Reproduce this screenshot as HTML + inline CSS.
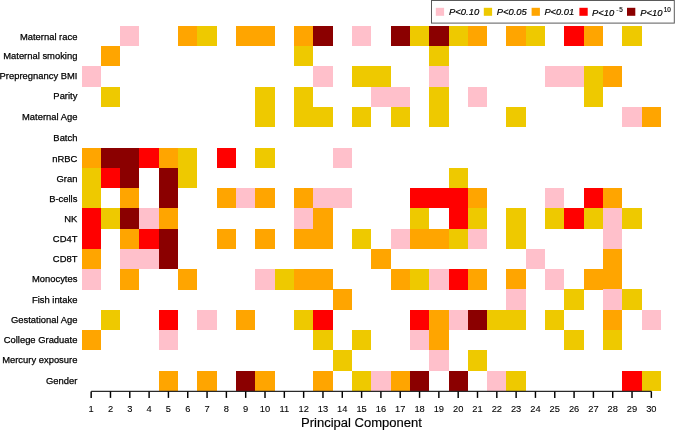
<!DOCTYPE html><html><head><meta charset="utf-8"><style>html,body{margin:0;padding:0;background:#fff;}svg{display:block;}</style></head><body>
<svg width="675" height="430" viewBox="0 0 675 430" font-family="Liberation Sans, Arial, sans-serif">
<rect x="0" y="0" width="675" height="430" fill="#fff"/>
<g shape-rendering="crispEdges">
<rect x="120.13" y="25.85" width="19.34" height="20.30" fill="#FFC0CB"/>
<rect x="178.09" y="25.85" width="19.34" height="20.30" fill="#FFA500"/>
<rect x="197.40" y="25.85" width="19.34" height="20.30" fill="#EEC900"/>
<rect x="236.04" y="25.85" width="19.34" height="20.30" fill="#FFA500"/>
<rect x="255.35" y="25.85" width="19.34" height="20.30" fill="#FFA500"/>
<rect x="293.99" y="25.85" width="19.34" height="20.30" fill="#FFA500"/>
<rect x="313.30" y="25.85" width="19.34" height="20.30" fill="#8B0000"/>
<rect x="351.94" y="25.85" width="19.34" height="20.30" fill="#FFC0CB"/>
<rect x="390.57" y="25.85" width="19.34" height="20.30" fill="#8B0000"/>
<rect x="409.89" y="25.85" width="19.34" height="20.30" fill="#EEC900"/>
<rect x="429.21" y="25.85" width="19.34" height="20.30" fill="#8B0000"/>
<rect x="448.52" y="25.85" width="19.34" height="20.30" fill="#EEC900"/>
<rect x="467.84" y="25.85" width="19.34" height="20.30" fill="#FFA500"/>
<rect x="506.47" y="25.85" width="19.34" height="20.30" fill="#FFA500"/>
<rect x="525.79" y="25.85" width="19.34" height="20.30" fill="#EEC900"/>
<rect x="564.42" y="25.85" width="19.34" height="20.30" fill="#FF0000"/>
<rect x="583.74" y="25.85" width="19.34" height="20.30" fill="#FFA500"/>
<rect x="622.38" y="25.85" width="19.34" height="20.30" fill="#EEC900"/>
<rect x="100.82" y="46.13" width="19.34" height="20.30" fill="#FFA500"/>
<rect x="293.99" y="46.13" width="19.34" height="20.30" fill="#EEC900"/>
<rect x="429.21" y="46.13" width="19.34" height="20.30" fill="#EEC900"/>
<rect x="81.50" y="66.41" width="19.34" height="20.30" fill="#FFC0CB"/>
<rect x="313.30" y="66.41" width="19.34" height="20.30" fill="#FFC0CB"/>
<rect x="351.94" y="66.41" width="19.34" height="20.30" fill="#EEC900"/>
<rect x="371.25" y="66.41" width="19.34" height="20.30" fill="#EEC900"/>
<rect x="429.21" y="66.41" width="19.34" height="20.30" fill="#FFC0CB"/>
<rect x="545.11" y="66.41" width="19.34" height="20.30" fill="#FFC0CB"/>
<rect x="564.42" y="66.41" width="19.34" height="20.30" fill="#FFC0CB"/>
<rect x="583.74" y="66.41" width="19.34" height="20.30" fill="#EEC900"/>
<rect x="603.06" y="66.41" width="19.34" height="20.30" fill="#FFA500"/>
<rect x="100.82" y="86.69" width="19.34" height="20.30" fill="#EEC900"/>
<rect x="255.35" y="86.69" width="19.34" height="20.30" fill="#EEC900"/>
<rect x="293.99" y="86.69" width="19.34" height="20.30" fill="#EEC900"/>
<rect x="371.25" y="86.69" width="19.34" height="20.30" fill="#FFC0CB"/>
<rect x="390.57" y="86.69" width="19.34" height="20.30" fill="#FFC0CB"/>
<rect x="429.21" y="86.69" width="19.34" height="20.30" fill="#EEC900"/>
<rect x="467.84" y="86.69" width="19.34" height="20.30" fill="#FFC0CB"/>
<rect x="583.74" y="86.69" width="19.34" height="20.30" fill="#EEC900"/>
<rect x="255.35" y="106.97" width="19.34" height="20.30" fill="#EEC900"/>
<rect x="293.99" y="106.97" width="19.34" height="20.30" fill="#EEC900"/>
<rect x="313.30" y="106.97" width="19.34" height="20.30" fill="#EEC900"/>
<rect x="351.94" y="106.97" width="19.34" height="20.30" fill="#EEC900"/>
<rect x="390.57" y="106.97" width="19.34" height="20.30" fill="#EEC900"/>
<rect x="429.21" y="106.97" width="19.34" height="20.30" fill="#EEC900"/>
<rect x="506.47" y="106.97" width="19.34" height="20.30" fill="#EEC900"/>
<rect x="622.38" y="106.97" width="19.34" height="20.30" fill="#FFC0CB"/>
<rect x="641.69" y="106.97" width="19.34" height="20.30" fill="#FFA500"/>
<rect x="81.50" y="147.53" width="19.34" height="20.30" fill="#FFA500"/>
<rect x="100.82" y="147.53" width="19.34" height="20.30" fill="#8B0000"/>
<rect x="120.13" y="147.53" width="19.34" height="20.30" fill="#8B0000"/>
<rect x="139.45" y="147.53" width="19.34" height="20.30" fill="#FF0000"/>
<rect x="158.77" y="147.53" width="19.34" height="20.30" fill="#FFA500"/>
<rect x="178.09" y="147.53" width="19.34" height="20.30" fill="#EEC900"/>
<rect x="216.72" y="147.53" width="19.34" height="20.30" fill="#FF0000"/>
<rect x="255.35" y="147.53" width="19.34" height="20.30" fill="#EEC900"/>
<rect x="332.62" y="147.53" width="19.34" height="20.30" fill="#FFC0CB"/>
<rect x="81.50" y="167.81" width="19.34" height="20.30" fill="#EEC900"/>
<rect x="100.82" y="167.81" width="19.34" height="20.30" fill="#FF0000"/>
<rect x="120.13" y="167.81" width="19.34" height="20.30" fill="#8B0000"/>
<rect x="158.77" y="167.81" width="19.34" height="20.30" fill="#8B0000"/>
<rect x="178.09" y="167.81" width="19.34" height="20.30" fill="#EEC900"/>
<rect x="448.52" y="167.81" width="19.34" height="20.30" fill="#EEC900"/>
<rect x="81.50" y="188.09" width="19.34" height="20.30" fill="#EEC900"/>
<rect x="120.13" y="188.09" width="19.34" height="20.30" fill="#FFA500"/>
<rect x="158.77" y="188.09" width="19.34" height="20.30" fill="#8B0000"/>
<rect x="216.72" y="188.09" width="19.34" height="20.30" fill="#FFA500"/>
<rect x="236.04" y="188.09" width="19.34" height="20.30" fill="#FFC0CB"/>
<rect x="255.35" y="188.09" width="19.34" height="20.30" fill="#FFA500"/>
<rect x="293.99" y="188.09" width="19.34" height="20.30" fill="#FFA500"/>
<rect x="313.30" y="188.09" width="19.34" height="20.30" fill="#FFC0CB"/>
<rect x="332.62" y="188.09" width="19.34" height="20.30" fill="#FFC0CB"/>
<rect x="409.89" y="188.09" width="19.34" height="20.30" fill="#FF0000"/>
<rect x="429.21" y="188.09" width="19.34" height="20.30" fill="#FF0000"/>
<rect x="448.52" y="188.09" width="19.34" height="20.30" fill="#FF0000"/>
<rect x="467.84" y="188.09" width="19.34" height="20.30" fill="#FFA500"/>
<rect x="545.11" y="188.09" width="19.34" height="20.30" fill="#FFC0CB"/>
<rect x="583.74" y="188.09" width="19.34" height="20.30" fill="#FF0000"/>
<rect x="603.06" y="188.09" width="19.34" height="20.30" fill="#FFA500"/>
<rect x="81.50" y="208.37" width="19.34" height="20.30" fill="#FF0000"/>
<rect x="100.82" y="208.37" width="19.34" height="20.30" fill="#EEC900"/>
<rect x="120.13" y="208.37" width="19.34" height="20.30" fill="#8B0000"/>
<rect x="139.45" y="208.37" width="19.34" height="20.30" fill="#FFC0CB"/>
<rect x="158.77" y="208.37" width="19.34" height="20.30" fill="#FFA500"/>
<rect x="293.99" y="208.37" width="19.34" height="20.30" fill="#FFC0CB"/>
<rect x="313.30" y="208.37" width="19.34" height="20.30" fill="#FFA500"/>
<rect x="409.89" y="208.37" width="19.34" height="20.30" fill="#EEC900"/>
<rect x="448.52" y="208.37" width="19.34" height="20.30" fill="#FF0000"/>
<rect x="467.84" y="208.37" width="19.34" height="20.30" fill="#EEC900"/>
<rect x="506.47" y="208.37" width="19.34" height="20.30" fill="#EEC900"/>
<rect x="545.11" y="208.37" width="19.34" height="20.30" fill="#EEC900"/>
<rect x="564.42" y="208.37" width="19.34" height="20.30" fill="#FF0000"/>
<rect x="583.74" y="208.37" width="19.34" height="20.30" fill="#EEC900"/>
<rect x="603.06" y="208.37" width="19.34" height="20.30" fill="#FFC0CB"/>
<rect x="622.38" y="208.37" width="19.34" height="20.30" fill="#EEC900"/>
<rect x="81.50" y="228.65" width="19.34" height="20.30" fill="#FF0000"/>
<rect x="120.13" y="228.65" width="19.34" height="20.30" fill="#FFA500"/>
<rect x="139.45" y="228.65" width="19.34" height="20.30" fill="#FF0000"/>
<rect x="158.77" y="228.65" width="19.34" height="20.30" fill="#8B0000"/>
<rect x="216.72" y="228.65" width="19.34" height="20.30" fill="#FFA500"/>
<rect x="255.35" y="228.65" width="19.34" height="20.30" fill="#FFA500"/>
<rect x="293.99" y="228.65" width="19.34" height="20.30" fill="#FFA500"/>
<rect x="313.30" y="228.65" width="19.34" height="20.30" fill="#FFA500"/>
<rect x="351.94" y="228.65" width="19.34" height="20.30" fill="#EEC900"/>
<rect x="390.57" y="228.65" width="19.34" height="20.30" fill="#FFC0CB"/>
<rect x="409.89" y="228.65" width="19.34" height="20.30" fill="#FFA500"/>
<rect x="429.21" y="228.65" width="19.34" height="20.30" fill="#FFA500"/>
<rect x="448.52" y="228.65" width="19.34" height="20.30" fill="#EEC900"/>
<rect x="467.84" y="228.65" width="19.34" height="20.30" fill="#FFC0CB"/>
<rect x="506.47" y="228.65" width="19.34" height="20.30" fill="#EEC900"/>
<rect x="603.06" y="228.65" width="19.34" height="20.30" fill="#FFC0CB"/>
<rect x="81.50" y="248.93" width="19.34" height="20.30" fill="#FFA500"/>
<rect x="120.13" y="248.93" width="19.34" height="20.30" fill="#FFC0CB"/>
<rect x="139.45" y="248.93" width="19.34" height="20.30" fill="#FFC0CB"/>
<rect x="158.77" y="248.93" width="19.34" height="20.30" fill="#8B0000"/>
<rect x="371.25" y="248.93" width="19.34" height="20.30" fill="#FFA500"/>
<rect x="525.79" y="248.93" width="19.34" height="20.30" fill="#FFC0CB"/>
<rect x="603.06" y="248.93" width="19.34" height="20.30" fill="#FFA500"/>
<rect x="81.50" y="269.21" width="19.34" height="20.30" fill="#FFC0CB"/>
<rect x="120.13" y="269.21" width="19.34" height="20.30" fill="#FFA500"/>
<rect x="178.09" y="269.21" width="19.34" height="20.30" fill="#FFA500"/>
<rect x="255.35" y="269.21" width="19.34" height="20.30" fill="#FFC0CB"/>
<rect x="274.67" y="269.21" width="19.34" height="20.30" fill="#EEC900"/>
<rect x="293.99" y="269.21" width="19.34" height="20.30" fill="#FFA500"/>
<rect x="313.30" y="269.21" width="19.34" height="20.30" fill="#FFA500"/>
<rect x="390.57" y="269.21" width="19.34" height="20.30" fill="#FFA500"/>
<rect x="409.89" y="269.21" width="19.34" height="20.30" fill="#EEC900"/>
<rect x="429.21" y="269.21" width="19.34" height="20.30" fill="#FFC0CB"/>
<rect x="448.52" y="269.21" width="19.34" height="20.30" fill="#FF0000"/>
<rect x="467.84" y="269.21" width="19.34" height="20.30" fill="#FFA500"/>
<rect x="506.47" y="269.21" width="19.34" height="20.30" fill="#FFA500"/>
<rect x="545.11" y="269.21" width="19.34" height="20.30" fill="#FFC0CB"/>
<rect x="583.74" y="269.21" width="19.34" height="20.30" fill="#FFA500"/>
<rect x="603.06" y="269.21" width="19.34" height="20.30" fill="#FFA500"/>
<rect x="332.62" y="289.49" width="19.34" height="20.30" fill="#FFA500"/>
<rect x="506.47" y="289.49" width="19.34" height="20.30" fill="#FFC0CB"/>
<rect x="564.42" y="289.49" width="19.34" height="20.30" fill="#EEC900"/>
<rect x="603.06" y="289.49" width="19.34" height="20.30" fill="#FFC0CB"/>
<rect x="622.38" y="289.49" width="19.34" height="20.30" fill="#EEC900"/>
<rect x="100.82" y="309.77" width="19.34" height="20.30" fill="#EEC900"/>
<rect x="158.77" y="309.77" width="19.34" height="20.30" fill="#FF0000"/>
<rect x="197.40" y="309.77" width="19.34" height="20.30" fill="#FFC0CB"/>
<rect x="236.04" y="309.77" width="19.34" height="20.30" fill="#FFA500"/>
<rect x="293.99" y="309.77" width="19.34" height="20.30" fill="#EEC900"/>
<rect x="313.30" y="309.77" width="19.34" height="20.30" fill="#FF0000"/>
<rect x="409.89" y="309.77" width="19.34" height="20.30" fill="#FF0000"/>
<rect x="429.21" y="309.77" width="19.34" height="20.30" fill="#FFA500"/>
<rect x="448.52" y="309.77" width="19.34" height="20.30" fill="#FFC0CB"/>
<rect x="467.84" y="309.77" width="19.34" height="20.30" fill="#8B0000"/>
<rect x="487.16" y="309.77" width="19.34" height="20.30" fill="#EEC900"/>
<rect x="506.47" y="309.77" width="19.34" height="20.30" fill="#EEC900"/>
<rect x="545.11" y="309.77" width="19.34" height="20.30" fill="#EEC900"/>
<rect x="603.06" y="309.77" width="19.34" height="20.30" fill="#FFA500"/>
<rect x="641.69" y="309.77" width="19.34" height="20.30" fill="#FFC0CB"/>
<rect x="81.50" y="330.05" width="19.34" height="20.30" fill="#FFA500"/>
<rect x="158.77" y="330.05" width="19.34" height="20.30" fill="#FFC0CB"/>
<rect x="313.30" y="330.05" width="19.34" height="20.30" fill="#EEC900"/>
<rect x="351.94" y="330.05" width="19.34" height="20.30" fill="#EEC900"/>
<rect x="409.89" y="330.05" width="19.34" height="20.30" fill="#FFC0CB"/>
<rect x="429.21" y="330.05" width="19.34" height="20.30" fill="#FFA500"/>
<rect x="564.42" y="330.05" width="19.34" height="20.30" fill="#EEC900"/>
<rect x="603.06" y="330.05" width="19.34" height="20.30" fill="#EEC900"/>
<rect x="332.62" y="350.33" width="19.34" height="20.30" fill="#EEC900"/>
<rect x="429.21" y="350.33" width="19.34" height="20.30" fill="#FFC0CB"/>
<rect x="467.84" y="350.33" width="19.34" height="20.30" fill="#EEC900"/>
<rect x="158.77" y="370.61" width="19.34" height="20.30" fill="#FFA500"/>
<rect x="197.40" y="370.61" width="19.34" height="20.30" fill="#FFA500"/>
<rect x="236.04" y="370.61" width="19.34" height="20.30" fill="#8B0000"/>
<rect x="255.35" y="370.61" width="19.34" height="20.30" fill="#FFA500"/>
<rect x="313.30" y="370.61" width="19.34" height="20.30" fill="#FFA500"/>
<rect x="351.94" y="370.61" width="19.34" height="20.30" fill="#EEC900"/>
<rect x="371.25" y="370.61" width="19.34" height="20.30" fill="#FFC0CB"/>
<rect x="390.57" y="370.61" width="19.34" height="20.30" fill="#FFA500"/>
<rect x="409.89" y="370.61" width="19.34" height="20.30" fill="#8B0000"/>
<rect x="448.52" y="370.61" width="19.34" height="20.30" fill="#8B0000"/>
<rect x="487.16" y="370.61" width="19.34" height="20.30" fill="#FFC0CB"/>
<rect x="506.47" y="370.61" width="19.34" height="20.30" fill="#EEC900"/>
<rect x="622.38" y="370.61" width="19.34" height="20.30" fill="#FF0000"/>
<rect x="641.69" y="370.61" width="19.34" height="20.30" fill="#EEC900"/>
</g>
<g fill="#000" stroke="#000" stroke-width="0.25" font-size="9.7">
<text x="77.40" y="39.60" text-anchor="end" textLength="57.46" lengthAdjust="spacingAndGlyphs">Maternal race</text>
<text x="77.40" y="58.70" text-anchor="end" textLength="74.18" lengthAdjust="spacingAndGlyphs">Maternal smoking</text>
<text x="77.40" y="79.10" text-anchor="end" textLength="77.84" lengthAdjust="spacingAndGlyphs">Prepregnancy BMI</text>
<text x="77.40" y="99.40" text-anchor="end" textLength="24.03" lengthAdjust="spacingAndGlyphs">Parity</text>
<text x="77.40" y="120.00" text-anchor="end" textLength="55.39" lengthAdjust="spacingAndGlyphs">Maternal Age</text>
<text x="77.40" y="140.90" text-anchor="end" textLength="24.04" lengthAdjust="spacingAndGlyphs">Batch</text>
<text x="77.40" y="161.60" text-anchor="end" textLength="25.07" lengthAdjust="spacingAndGlyphs">nRBC</text>
<text x="77.40" y="181.80" text-anchor="end" textLength="20.90" lengthAdjust="spacingAndGlyphs">Gran</text>
<text x="77.40" y="201.80" text-anchor="end" textLength="28.20" lengthAdjust="spacingAndGlyphs">B-cells</text>
<text x="77.40" y="222.00" text-anchor="end" textLength="13.06" lengthAdjust="spacingAndGlyphs">NK</text>
<text x="77.40" y="242.40" text-anchor="end" textLength="24.55" lengthAdjust="spacingAndGlyphs">CD4T</text>
<text x="77.40" y="262.40" text-anchor="end" textLength="24.55" lengthAdjust="spacingAndGlyphs">CD8T</text>
<text x="77.40" y="282.40" text-anchor="end" textLength="45.45" lengthAdjust="spacingAndGlyphs">Monocytes</text>
<text x="77.40" y="303.30" text-anchor="end" textLength="45.45" lengthAdjust="spacingAndGlyphs">Fish intake</text>
<text x="77.40" y="322.60" text-anchor="end" textLength="66.37" lengthAdjust="spacingAndGlyphs">Gestational Age</text>
<text x="77.40" y="342.90" text-anchor="end" textLength="73.68" lengthAdjust="spacingAndGlyphs">College Graduate</text>
<text x="77.40" y="363.40" text-anchor="end" textLength="75.22" lengthAdjust="spacingAndGlyphs">Mercury exposure</text>
<text x="77.40" y="384.30" text-anchor="end" textLength="31.35" lengthAdjust="spacingAndGlyphs">Gender</text>
</g>
<line x1="91.16" y1="391.4" x2="651.35" y2="391.4" stroke="#2a2a2a" stroke-width="1.2"/>
<g stroke="#000" stroke-width="1.45">
<line x1="91.16" y1="391.4" x2="91.16" y2="397.9"/>
<line x1="110.48" y1="391.4" x2="110.48" y2="397.9"/>
<line x1="129.79" y1="391.4" x2="129.79" y2="397.9"/>
<line x1="149.11" y1="391.4" x2="149.11" y2="397.9"/>
<line x1="168.43" y1="391.4" x2="168.43" y2="397.9"/>
<line x1="187.74" y1="391.4" x2="187.74" y2="397.9"/>
<line x1="207.06" y1="391.4" x2="207.06" y2="397.9"/>
<line x1="226.38" y1="391.4" x2="226.38" y2="397.9"/>
<line x1="245.69" y1="391.4" x2="245.69" y2="397.9"/>
<line x1="265.01" y1="391.4" x2="265.01" y2="397.9"/>
<line x1="284.33" y1="391.4" x2="284.33" y2="397.9"/>
<line x1="303.65" y1="391.4" x2="303.65" y2="397.9"/>
<line x1="322.96" y1="391.4" x2="322.96" y2="397.9"/>
<line x1="342.28" y1="391.4" x2="342.28" y2="397.9"/>
<line x1="361.60" y1="391.4" x2="361.60" y2="397.9"/>
<line x1="380.91" y1="391.4" x2="380.91" y2="397.9"/>
<line x1="400.23" y1="391.4" x2="400.23" y2="397.9"/>
<line x1="419.55" y1="391.4" x2="419.55" y2="397.9"/>
<line x1="438.86" y1="391.4" x2="438.86" y2="397.9"/>
<line x1="458.18" y1="391.4" x2="458.18" y2="397.9"/>
<line x1="477.50" y1="391.4" x2="477.50" y2="397.9"/>
<line x1="496.82" y1="391.4" x2="496.82" y2="397.9"/>
<line x1="516.13" y1="391.4" x2="516.13" y2="397.9"/>
<line x1="535.45" y1="391.4" x2="535.45" y2="397.9"/>
<line x1="554.77" y1="391.4" x2="554.77" y2="397.9"/>
<line x1="574.08" y1="391.4" x2="574.08" y2="397.9"/>
<line x1="593.40" y1="391.4" x2="593.40" y2="397.9"/>
<line x1="612.72" y1="391.4" x2="612.72" y2="397.9"/>
<line x1="632.03" y1="391.4" x2="632.03" y2="397.9"/>
<line x1="651.35" y1="391.4" x2="651.35" y2="397.9"/>
</g>
<g fill="#000" stroke="#000" stroke-width="0.1" font-size="9.3" text-anchor="middle">
<text x="91.16" y="411.7">1</text>
<text x="110.48" y="411.7">2</text>
<text x="129.79" y="411.7">3</text>
<text x="149.11" y="411.7">4</text>
<text x="168.43" y="411.7">5</text>
<text x="187.74" y="411.7">6</text>
<text x="207.06" y="411.7">7</text>
<text x="226.38" y="411.7">8</text>
<text x="245.69" y="411.7">9</text>
<text x="265.01" y="411.7">10</text>
<text x="284.33" y="411.7">11</text>
<text x="303.65" y="411.7">12</text>
<text x="322.96" y="411.7">13</text>
<text x="342.28" y="411.7">14</text>
<text x="361.60" y="411.7">15</text>
<text x="380.91" y="411.7">16</text>
<text x="400.23" y="411.7">17</text>
<text x="419.55" y="411.7">18</text>
<text x="438.86" y="411.7">19</text>
<text x="458.18" y="411.7">20</text>
<text x="477.50" y="411.7">21</text>
<text x="496.82" y="411.7">22</text>
<text x="516.13" y="411.7">23</text>
<text x="535.45" y="411.7">24</text>
<text x="554.77" y="411.7">25</text>
<text x="574.08" y="411.7">26</text>
<text x="593.40" y="411.7">27</text>
<text x="612.72" y="411.7">28</text>
<text x="632.03" y="411.7">29</text>
<text x="651.35" y="411.7">30</text>
</g>
<text x="361.5" y="426.6" font-size="12.5" text-anchor="middle" fill="#000" stroke="#000" stroke-width="0.15" textLength="121" lengthAdjust="spacingAndGlyphs">Principal Component</text>
<rect x="431.5" y="0.5" width="242.8" height="22.6" fill="#fff" stroke="#5a5a5a" stroke-width="1"/>
<rect x="435.8" y="7.8" width="8.3" height="8" fill="#FFC0CB"/>
<rect x="483.8" y="7.8" width="8.3" height="8" fill="#EEC900"/>
<rect x="531.6" y="7.8" width="8.3" height="8" fill="#FFA500"/>
<rect x="579.4" y="7.8" width="8.3" height="8" fill="#FF0000"/>
<rect x="627.0" y="7.8" width="8.3" height="8" fill="#8B0000"/>
<g fill="#000" stroke="#000" stroke-width="0.2" font-size="9.8" font-style="italic">
<text x="449" y="14.9" textLength="30.2" lengthAdjust="spacingAndGlyphs">P&lt;0.10</text>
<text x="496.7" y="14.9" textLength="30.0" lengthAdjust="spacingAndGlyphs">P&lt;0.05</text>
<text x="544.4" y="14.9" textLength="29.8" lengthAdjust="spacingAndGlyphs">P&lt;0.01</text>
<text x="592.1" y="15.8" textLength="22.2" lengthAdjust="spacingAndGlyphs">P&lt;10</text>
<text x="640.2" y="15.8" textLength="22.2" lengthAdjust="spacingAndGlyphs">P&lt;10</text>
</g>
<g fill="#000" stroke="#000" stroke-width="0.15" font-size="6.4">
<text x="616.3" y="12.3" font-size="6" textLength="2.3" lengthAdjust="spacingAndGlyphs">-</text>
<text x="619.2" y="12.3">5</text>
<text x="663.8" y="11.8">10</text>
</g>
</svg></body></html>
